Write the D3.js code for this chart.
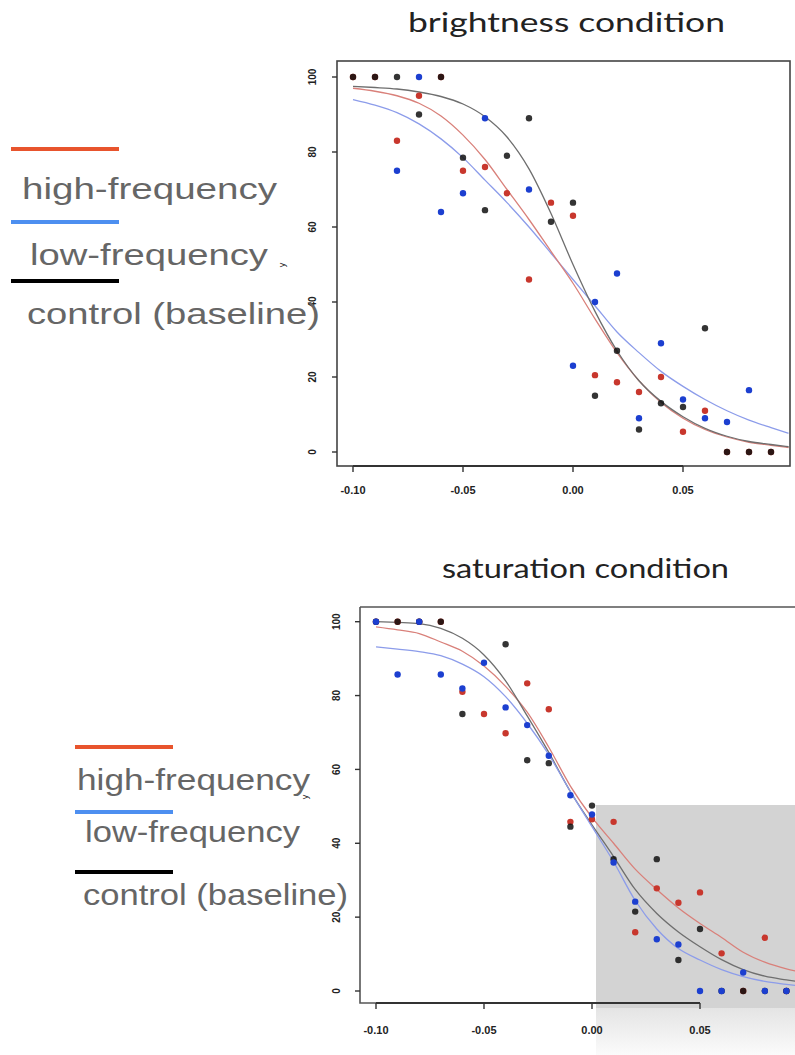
<!DOCTYPE html>
<html>
<head>
<meta charset="utf-8">
<script src="https://cdn.jsdelivr.net/npm/d3@7"></script>
<style>
  html, body { margin: 0; padding: 0; background: #fff; }
  svg { display: block; }
</style>
</head>
<body>
<div id="chart"></div>
<script>
// stimulus levels (x) shared by both conditions
var xLevels = [-0.10, -0.09, -0.08, -0.07, -0.06, -0.05, -0.04, -0.03, -0.02, -0.01,
               0.00, 0.01, 0.02, 0.03, 0.04, 0.05, 0.06, 0.07, 0.08, 0.09];
var xTicks = [-0.10, -0.05, 0.00, 0.05];
var xTickLabels = ["-0.10", "-0.05", "0.00", "0.05"];
var yTicks = [0, 20, 40, 60, 80, 100];

// brightness condition, observed points (null = not visible)
var brightHigh = [100, 100, 83, 95, 100, 75, 76, 69, 46, 66.5, 63, 20.5, 18.6, 16, 20, 5.4, 11, 0, 0, 0];
var brightLow  = [null, null, 75, 100, 64, 69, 89, null, 70, null, 23, 40, 47.6, 9, 29, 14, 9, 8, 16.5, null];
var brightCtrl = [100, 100, 100, 90, 100, 78.5, 64.5, 79, 89, 61.4, 66.5, 15, 27, 6, 13, 12, 33, 0, 0, 0];

// saturation condition, observed points
var satHigh = [100, 100, 100, 100, 81, 75, 69.8, 83.3, 76.3, 45.8, 46.5, 45.8, 15.9, 27.8, 23.9, 26.7, 10.2, 0, 14.4, 0];
var satLow  = [100, 85.7, 100, 85.7, 81.9, 88.9, 76.8, 72, 63.7, 53, 47.8, 34.8, 24.2, 14, 12.6, 0, 0, 5, 0, 0];
var satCtrl = [100, 100, 100, 100, 75, null, 93.9, 62.5, 61.7, 44.5, 50.2, 35.7, 21.5, 35.7, 8.4, 16.8, 0, 0, 0, 0];

// fitted curves
var fitX = [-0.10, -0.09, -0.08, -0.07, -0.06, -0.05, -0.04, -0.03, -0.02, -0.01,
            0.00, 0.01, 0.02, 0.03, 0.04, 0.05, 0.06, 0.07, 0.08, 0.09, 0.098];
var brightHighFit = [97, 96.2, 95, 93, 89.6, 84.5, 78, 70, 62, 53.5, 45, 35.5, 26.5, 19, 13.2, 9, 6, 4, 2.6, 1.8, 1.2];
var brightLowFit  = [94, 92.5, 90.5, 87.5, 83.5, 78.5, 72.5, 66.5, 60, 53, 46, 39, 32, 26.5, 21.5, 17.5, 14, 11, 8.5, 6.5, 5];
var brightCtrlFit = [97.5, 97.2, 96.8, 96, 94.8, 92.8, 89.4, 84, 75.5, 63.6, 50, 37.5, 27, 19, 13.5, 9.4, 6.3, 4.2, 2.8, 2, 1.4];
var satHighFit = [98.6, 97.8, 96.8, 94.5, 92, 88, 82.5, 75.5, 66, 55.5, 47, 40, 33, 27.5, 22.5, 18.3, 14.5, 10.5, 7.8, 6, 5];
var satLowFit  = [93.2, 92.6, 91.9, 90.8, 88.5, 85.1, 79.7, 72.5, 64, 54, 44.5, 35, 24.5, 16.8, 11.5, 8.4, 5.8, 3.9, 2.6, 1.8, 1.2];
var satCtrlFit = [100, 99.8, 99.5, 98.2, 95.5, 91, 84, 74.5, 64.6, 54, 45, 36.4, 27.5, 21, 16, 12, 8.5, 5.8, 4, 3, 2.3];

var legendLabels = ["high-frequency", "low-frequency", "control (baseline)"];

var colors = {
    high: { point: "#c8372d", fit: "#d9807a", legend: "#e8542d" },
    low:  { point: "#1c3fd0", fit: "#8c9cea", legend: "#4d8ff0" },
    ctrl: { point: "#111111", fit: "#6e6e6e", legend: "#000000" }
};

var width = 795, height = 1055;

var svg = d3.select("#chart")
    .append("svg")
    .attr("width", width)
    .attr("height", height);

var defs = svg.append("defs");
var grad = defs.append("linearGradient")
    .attr("id", "fade")
    .attr("x1", 0).attr("y1", 0).attr("x2", 0).attr("y2", 1);
grad.append("stop").attr("offset", "0%").attr("stop-color", "#e4e4e4");
grad.append("stop").attr("offset", "100%").attr("stop-color", "#fbfbfb");

function drawPanel(cfg) {
    var g = svg.append("g");

    var x = d3.scaleLinear().domain([-0.10, 0.05]).range(cfg.xRange);
    var y = d3.scaleLinear().domain([0, 100]).range(cfg.yRange);
    var box = cfg.box;

    // title
    g.append("text")
        .attr("x", cfg.title.x)
        .attr("y", cfg.title.y)
        .attr("textLength", cfg.title.len)
        .attr("lengthAdjust", "spacingAndGlyphs")
        .attr("font-family", "Lato, 'Open Sans', sans-serif")
        .attr("font-size", 27)
        .attr("fill", "#222")
        .text(cfg.title.text);

    // grey highlight sits behind the data
    if (cfg.shade) {
        g.append("rect")
            .attr("x", cfg.shade.x).attr("y", cfg.shade.y)
            .attr("width", cfg.shade.w).attr("height", cfg.shade.split - cfg.shade.y)
            .attr("fill", "#d3d3d3");
        g.append("rect")
            .attr("x", cfg.shade.x).attr("y", cfg.shade.split)
            .attr("width", cfg.shade.w).attr("height", cfg.shade.y + cfg.shade.h - cfg.shade.split)
            .attr("fill", "url(#fade)");
    }

    // plot box
    if (cfg.shade) {
        // bottom edge is hidden under the grey box
        g.append("path")
            .attr("d", "M" + box.x0 + "," + box.y0 + "H" + box.x1 + "M" + box.x0 + "," + box.y0 + "V" + box.y1 + "H" + cfg.shade.x)
            .attr("fill", "none").attr("stroke", "#555").attr("stroke-width", 1.6);
    } else {
        g.append("rect")
            .attr("x", box.x0).attr("y", box.y0)
            .attr("width", box.x1 - box.x0).attr("height", box.y1 - box.y0)
            .attr("fill", "none").attr("stroke", "#444").attr("stroke-width", 1.6);
    }

    // x axis
    var xAxis = g.append("g");
    xAxis.append("line")
        .attr("x1", x(xTicks[0])).attr("x2", x(xTicks[xTicks.length - 1]))
        .attr("y1", box.y1).attr("y2", box.y1)
        .attr("stroke", "#333").attr("stroke-width", 1.8);
    xAxis.selectAll(".xt")
        .data(xTicks)
        .enter()
        .append("line")
        .attr("x1", function (d) { return x(d); })
        .attr("x2", function (d) { return x(d); })
        .attr("y1", box.y1).attr("y2", box.y1 + 6)
        .attr("stroke", "#333").attr("stroke-width", 1.4);
    xAxis.selectAll(".xl")
        .data(xTicks)
        .enter()
        .append("text")
        .attr("x", function (d) { return x(d); })
        .attr("y", cfg.xLabelY)
        .attr("text-anchor", "middle")
        .attr("font-family", "'Liberation Sans', Arial, sans-serif")
        .attr("font-weight", "bold")
        .attr("font-size", 11)
        .attr("fill", "#222")
        .text(function (d, i) { return xTickLabels[i]; });

    // y axis (ticks and rotated labels, R style)
    var yAxis = g.append("g");
    yAxis.selectAll(".yt")
        .data(yTicks)
        .enter()
        .append("line")
        .attr("x1", box.x0 - 5).attr("x2", box.x0)
        .attr("y1", function (d) { return y(d); })
        .attr("y2", function (d) { return y(d); })
        .attr("stroke", "#333").attr("stroke-width", 1.4);
    yAxis.selectAll(".yl")
        .data(yTicks)
        .enter()
        .append("text")
        .attr("transform", function (d) {
            return "translate(" + cfg.yLabelX + "," + y(d) + ") rotate(-90)";
        })
        .attr("text-anchor", "middle")
        .attr("font-family", "'Liberation Sans', Arial, sans-serif")
        .attr("font-weight", "bold")
        .attr("font-size", 10)
        .attr("fill", "#222")
        .text(function (d) { return d; });

    g.append("text")
        .attr("transform", "translate(" + cfg.yName[0] + "," + cfg.yName[1] + ") rotate(-90)")
        .attr("text-anchor", "middle")
        .attr("font-family", "'Liberation Sans', Arial, sans-serif")
        .attr("font-size", 9)
        .attr("fill", "#222")
        .text("y");

    // clip curves to the box
    var clipId = "clip" + cfg.id;
    defs.append("clipPath").attr("id", clipId)
        .append("rect")
        .attr("x", box.x0).attr("y", box.y0)
        .attr("width", Math.min(box.x1, width) - box.x0).attr("height", box.y1 - box.y0);

    var line = d3.line()
        .x(function (d) { return x(d[0]); })
        .y(function (d) { return y(d[1]); })
        .curve(d3.curveMonotoneX);

    var curves = g.append("g").attr("clip-path", "url(#" + clipId + ")");
    cfg.series.forEach(function (s) {
        curves.append("path")
            .datum(fitX.map(function (v, i) { return [v, s.fit[i]]; }))
            .attr("d", line)
            .attr("fill", "none")
            .attr("stroke", colors[s.key].fit)
            .attr("stroke-width", 1.3);
    });

    cfg.series.forEach(function (s) {
        var pts = xLevels.map(function (v, i) { return [v, s.values[i]]; })
            .filter(function (d) { return d[1] !== null; });
        g.append("g")
            .selectAll("circle")
            .data(pts)
            .enter()
            .append("circle")
            .attr("cx", function (d) { return x(d[0]); })
            .attr("cy", function (d) { return y(d[1]); })
            .attr("r", 3.2)
            .attr("fill", colors[s.key].point)
            .attr("fill-opacity", s.key === "ctrl" ? 0.85 : 1);
    });

    // legend: coloured bar above each label
    var lg = g.append("g");
    var keys = ["high", "low", "ctrl"];
    keys.forEach(function (k, i) {
        var it = cfg.legend[i];
        lg.append("line")
            .attr("x1", cfg.legendBar[0]).attr("x2", cfg.legendBar[1])
            .attr("y1", it.bar).attr("y2", it.bar)
            .attr("stroke", colors[k].legend)
            .attr("stroke-width", 4);
        lg.append("text")
            .attr("x", it.x)
            .attr("y", it.y)
            .attr("textLength", it.len)
            .attr("lengthAdjust", "spacingAndGlyphs")
            .attr("font-family", "'Liberation Sans', Arial, sans-serif")
            .attr("font-size", cfg.legendSize)
            .attr("fill", "#666")
            .text(legendLabels[i]);
    });
}

drawPanel({
    id: 1,
    title: { text: "brightness condition", x: 408, y: 32, len: 317 },
    box: { x0: 337, y0: 61, x1: 790, y1: 466 },
    xRange: [353, 683],
    yRange: [452, 77],
    xLabelY: 494,
    yLabelX: 316,
    yName: [285, 265],
    series: [
        { key: "low", values: brightLow, fit: brightLowFit },
        { key: "high", values: brightHigh, fit: brightHighFit },
        { key: "ctrl", values: brightCtrl, fit: brightCtrlFit }
    ],
    legendBar: [11, 119],
    legendSize: 30,
    legend: [
        { bar: 149, x: 22, y: 199, len: 255 },
        { bar: 222, x: 30, y: 265, len: 238 },
        { bar: 281, x: 27, y: 324, len: 293 }
    ]
});

drawPanel({
    id: 2,
    title: { text: "saturation condition", x: 442, y: 578, len: 287 },
    box: { x0: 360, y0: 607, x1: 800, y1: 1003 },
    xRange: [376, 700],
    yRange: [991, 621.7],
    xLabelY: 1034,
    yLabelX: 340,
    yName: [308, 797],
    shade: { x: 596, y: 805, w: 204, h: 250, split: 1008 },
    series: [
        { key: "high", values: satHigh, fit: satHighFit },
        { key: "ctrl", values: satCtrl, fit: satCtrlFit },
        { key: "low", values: satLow, fit: satLowFit }
    ],
    legendBar: [75, 173],
    legendSize: 29,
    legend: [
        { bar: 747, x: 77, y: 790, len: 233 },
        { bar: 812, x: 85, y: 842, len: 215 },
        { bar: 872, x: 83, y: 905, len: 265 }
    ]
});
</script>
</body>
</html>
